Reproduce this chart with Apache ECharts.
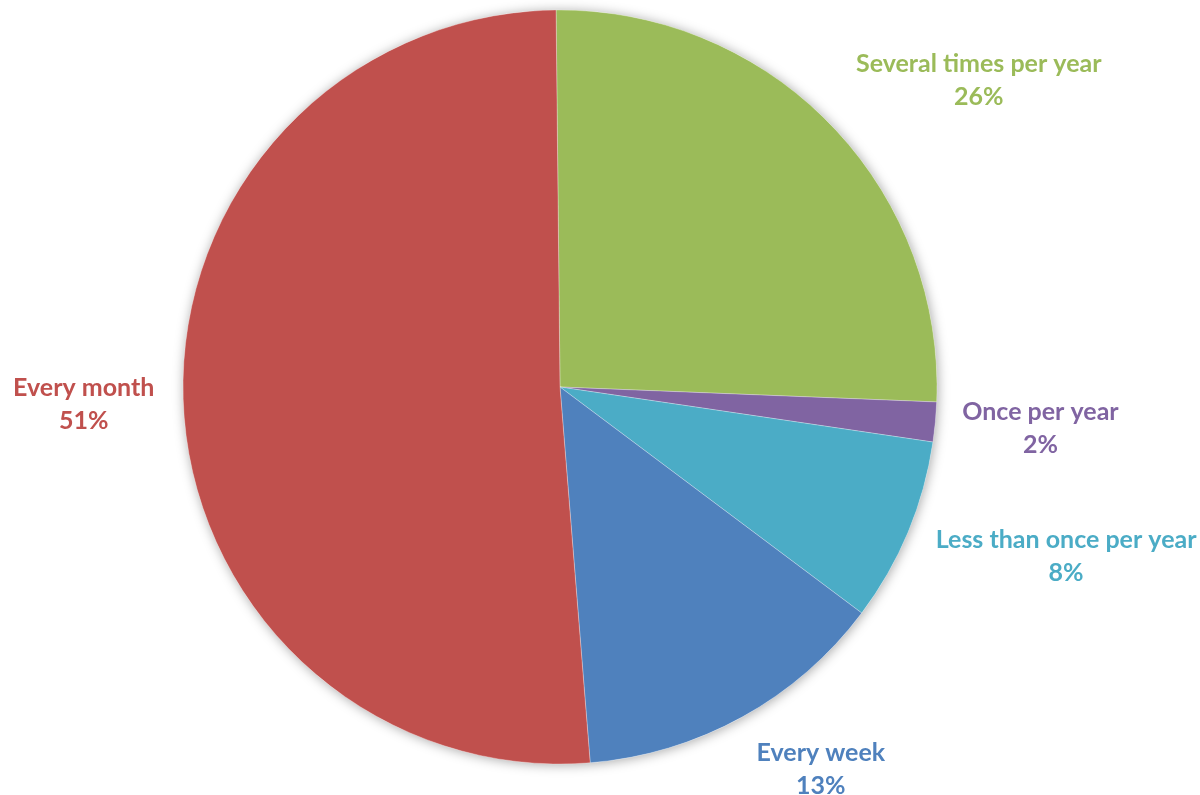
<!DOCTYPE html>
<html>
<head>
<meta charset="utf-8">
<script src="https://cdn.jsdelivr.net/npm/echarts@6/dist/echarts.min.js"></script>
<style>
html,body{margin:0;padding:0;background:#fff;}
#chart{width:1200px;height:795px;}
</style>
</head>
<body>
<div id="chart"></div>
<script>
const categories = ['Several times per year', 'Once per year', 'Less than once per year', 'Every week', 'Every month'];
const values = [25.8, 1.7, 7.9, 13.49, 51.11];
const colors = ['#9BBB59', '#8064A2', '#4BACC6', '#4F81BD', '#C0504D'];
// small nudges of each label from ECharts' default outside position
const labelNudge = [[-1, -23], [-8, 4], [-5, 13], [-5, 26], [6, -1]];

const chart = echarts.init(document.getElementById('chart'));
const data = categories.map((name, i) => ({
  name: name,
  value: values[i],
  itemStyle: { color: colors[i] },
  label: { color: colors[i] }
}));
const total = values.reduce((a, b) => a + b, 0);

chart.setOption({
  animation: false,
  backgroundColor: '#ffffff',
  series: [{
    type: 'pie',
    silent: true,
    z: 1,
    center: [560, 387],
    radius: [0, 377],
    data: [{ value: total, name: 'shadow' }],
    itemStyle: {
      color: '#ffffff',
      shadowBlur: 12,
      shadowColor: 'rgba(0,0,0,0.35)',
      shadowOffsetX: 1,
      shadowOffsetY: 1
    },
    label: { show: false },
    labelLine: { show: false }
  }, {
    type: 'pie',
    z: 2,
    center: [560, 387],
    radius: [0, 377],
    startAngle: 90.6,
    clockwise: true,
    avoidLabelOverlap: false,
    data: data,
    itemStyle: {
      borderColor: 'rgba(255,255,255,0.35)',
      borderWidth: 0.8
    },
    label: {
      show: true,
      position: 'outside',
      fontFamily: 'Lato',
      fontWeight: 'bold',
      fontSize: 25,
      lineHeight: 33,
      formatter: p => '{c|' + p.name + '}\n{c|' + Math.round(p.percent) + '%}',
      rich: {
        c: { align: 'center', fontFamily: 'Lato', fontWeight: 'bold', fontSize: 25, lineHeight: 33 }
      }
    },
    labelLine: { show: false, length: 30, length2: 0 },
    labelLayout: params => {
      const n = labelNudge[params.dataIndex] || [0, 0];
      return { dx: n[0], dy: n[1] };
    }
  }]
});
</script>
</body>
</html>
